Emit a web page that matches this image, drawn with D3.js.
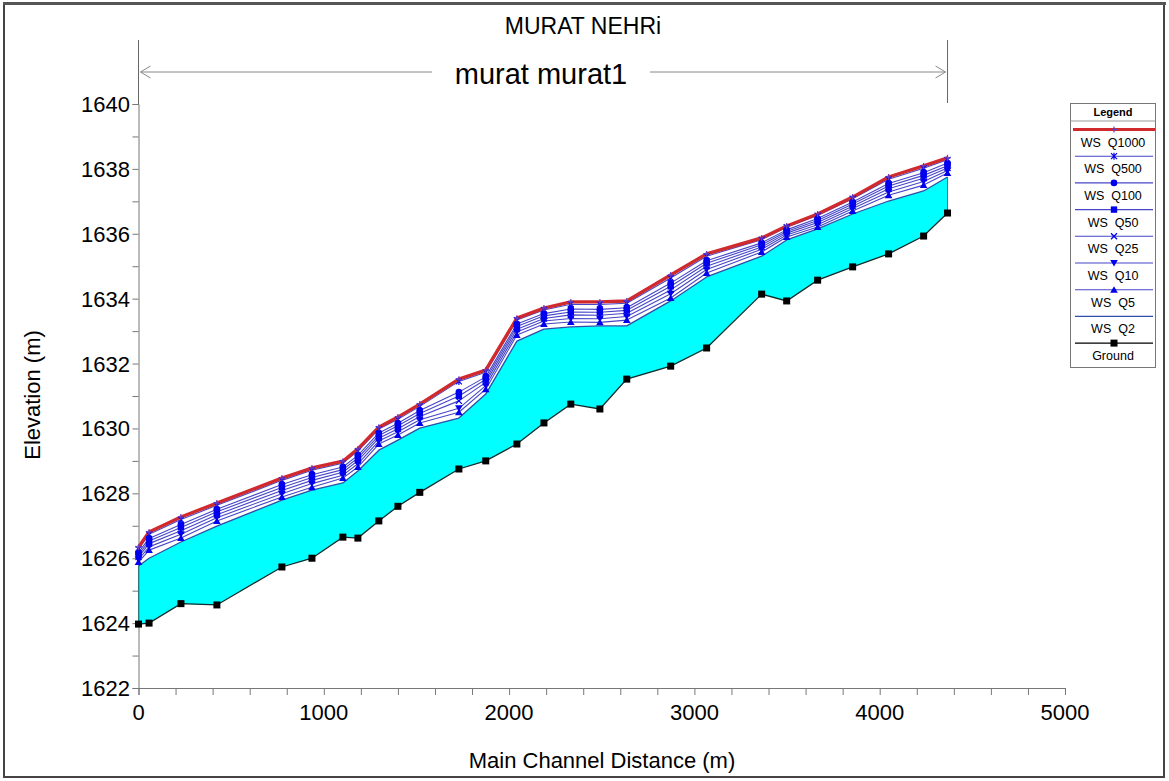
<!DOCTYPE html>
<html><head><meta charset="utf-8">
<script src="https://cdn.jsdelivr.net/npm/d3@7"></script>
<style>html,body{margin:0;padding:0;background:#fff;}svg{display:block;font-family:"Liberation Sans",Arial,sans-serif;}</style>
</head><body>
<svg id="c" width="1169" height="781"></svg>
<script>
const stations = [0,57,229,423,774,936,1103,1184,1297,1400,1518,1729,1874,2042,2188,2333,2490,2635,2872,3066,3363,3498,3665,3854,4048,4237,4366];
const ground = [1623.97,1624.00,1624.60,1624.56,1625.73,1626.00,1626.65,1626.62,1627.15,1627.60,1628.03,1628.75,1629.00,1629.52,1630.17,1630.75,1630.60,1631.52,1631.92,1632.48,1634.14,1633.93,1634.57,1634.98,1635.38,1635.93,1636.64];
const wsQ1000 = [1626.34,1626.81,1627.27,1627.70,1628.47,1628.78,1628.99,1629.37,1630.04,1630.35,1630.75,1631.52,1631.80,1633.40,1633.71,1633.90,1633.90,1633.93,1634.73,1635.38,1635.87,1636.24,1636.61,1637.13,1637.75,1638.09,1638.34];
const wsQ500 = [1626.28,1626.74,1627.19,1627.63,1628.40,1628.71,1628.93,1629.30,1629.98,1630.28,1630.68,1631.45,1631.73,1633.34,1633.65,1633.83,1633.82,1633.86,1634.64,1635.31,1635.82,1636.20,1636.56,1637.08,1637.68,1638.02,1638.28];
const wsQ100 = [1626.18,1626.61,1627.04,1627.51,1628.27,1628.57,1628.81,1629.17,1629.86,1630.16,1630.55,1631.12,1631.59,1633.22,1633.54,1633.68,1633.67,1633.72,1634.48,1635.17,1635.72,1636.12,1636.47,1636.98,1637.55,1637.88,1638.18];
const wsQ50 = [1626.11,1626.53,1626.95,1627.43,1628.18,1628.49,1628.73,1629.09,1629.78,1630.08,1630.46,1631.00,1631.51,1633.14,1633.47,1633.59,1633.58,1633.64,1634.38,1635.09,1635.66,1636.07,1636.41,1636.92,1637.47,1637.80,1638.10];
const wsQ25 = [1626.04,1626.45,1626.85,1627.34,1628.09,1628.40,1628.65,1629.01,1629.70,1629.99,1630.37,1630.85,1631.42,1633.06,1633.39,1633.50,1633.49,1633.55,1634.27,1635.00,1635.59,1636.02,1636.35,1636.85,1637.39,1637.71,1638.03];
const wsQ10 = [1625.96,1626.35,1626.74,1627.25,1627.99,1628.30,1628.56,1628.91,1629.61,1629.90,1630.27,1630.62,1631.32,1632.97,1633.31,1633.39,1633.38,1633.45,1634.15,1634.90,1635.52,1635.96,1636.28,1636.78,1637.29,1637.61,1637.95];
const wsQ5 = [1625.88,1626.25,1626.62,1627.15,1627.89,1628.19,1628.47,1628.81,1629.52,1629.80,1630.17,1630.50,1631.21,1632.88,1633.22,1633.28,1633.27,1633.34,1634.02,1634.79,1635.44,1635.90,1636.21,1636.70,1637.19,1637.50,1637.87];
const wsQ2 = [1625.76,1626.00,1626.50,1626.99,1627.79,1628.10,1628.32,1628.69,1629.33,1629.64,1630.01,1630.32,1631.06,1632.69,1633.06,1633.13,1633.16,1633.16,1633.93,1634.67,1635.31,1635.81,1636.15,1636.61,1637.01,1637.32,1637.75];
const profileNames = ["WS  Q1000","WS  Q500","WS  Q100","WS  Q50","WS  Q25","WS  Q10","WS  Q5","WS  Q2","Ground"];
const xTicks = [0,1000,2000,3000,4000,5000];
const yTicks = [1622,1624,1626,1628,1630,1632,1634,1636,1638,1640];
const chartTitle = "MURAT NEHRi";
const reachName = "murat murat1";
const xTitle = "Main Channel Distance (m)";
const yTitle = "Elevation (m)";

const svg = d3.select("#c");
const x = d3.scaleLinear().domain([0,5000]).range([138.5,1065]);
const y = d3.scaleLinear().domain([1622,1640]).range([688,104]);

// outer frame
svg.append("rect").attr("x",4).attr("y",4).attr("width",1160).attr("height",773)
  .attr("fill","none").attr("stroke","#444").attr("stroke-width",2);
svg.append("line").attr("x1",3).attr("x2",1166).attr("y1",3.5).attr("y2",3.5).attr("stroke","#555").attr("stroke-width",3);

// water fill between ground and lowest WS
const area = d3.area().x((d,i)=>x(stations[i])).y0((d,i)=>y(ground[i])).y1(d=>y(d));
svg.append("path").datum(wsQ2).attr("d",area).attr("fill","#00ffff").attr("stroke","none");

// axes
const gx = svg.append("g").attr("transform","translate(0,688)")
  .call(d3.axisBottom(x).tickValues(d3.range(0,5001,200)).tickSize(7).tickFormat(""));
gx.select(".domain").attr("stroke","#777");
gx.selectAll(".tick line").attr("stroke","#777");
svg.append("g").selectAll("text").data(xTicks).join("text")
  .attr("x",d=>x(d)).attr("y",720).attr("text-anchor","middle")
  .attr("font-size",22).attr("fill","#000").text(d=>d);

const gy = svg.append("g").attr("transform","translate(138.5,0)")
  .call(d3.axisLeft(y).tickValues(d3.range(1622,1641,1)).tickSize(6).tickFormat(""));
gy.select(".domain").attr("stroke","#777");
gy.selectAll(".tick line").attr("stroke","#777");
svg.append("g").selectAll("text").data(yTicks).join("text")
  .attr("x",130).attr("y",d=>y(d)+8).attr("text-anchor","end")
  .attr("font-size",22).attr("fill","#000").text(d=>d);

// titles
svg.append("text").attr("x",583).attr("y",34).attr("text-anchor","middle").attr("font-size",23).text(chartTitle);
svg.append("text").attr("x",541).attr("y",84).attr("text-anchor","middle").attr("font-size",29).text(reachName);
svg.append("text").attr("x",602).attr("y",768).attr("text-anchor","middle").attr("font-size",22).text(xTitle);
svg.append("text").attr("transform","translate(40,395) rotate(-90)").attr("text-anchor","middle").attr("font-size",22).text(yTitle);

// reach bracket
const xs = x(stations[0]), xe = x(stations[stations.length-1]);
svg.append("line").attr("x1",xs).attr("x2",xs).attr("y1",40).attr("y2",104).attr("stroke","#666");
svg.append("line").attr("x1",xe).attr("x2",xe).attr("y1",40).attr("y2",103).attr("stroke","#666");
svg.append("line").attr("x1",xs+2).attr("x2",432).attr("y1",72).attr("y2",72).attr("stroke","#888");
svg.append("line").attr("x1",650).attr("x2",xe-2).attr("y1",72).attr("y2",72).attr("stroke","#888");
svg.append("path").attr("d",`M${xs+12},66 L${xs+2},72 L${xs+12},78`).attr("fill","none").attr("stroke","#888");
svg.append("path").attr("d",`M${xe-12},66 L${xe-2},72 L${xe-12},78`).attr("fill","none").attr("stroke","#888");

const line = d3.line().x((d,i)=>x(stations[i])).y(d=>y(d));
const blueLine = "#4646c8";
const mk = "#0000ee";
const profiles = [
  {name:profileNames[0], data:wsQ1000, color:"#d02a2e", width:3.4, sym:"plus"},
  {name:profileNames[1], data:wsQ500, color:blueLine, width:1.1, sym:"star"},
  {name:profileNames[2], data:wsQ100, color:blueLine, width:1.1, sym:"circle"},
  {name:profileNames[3], data:wsQ50, color:blueLine, width:1.1, sym:"square"},
  {name:profileNames[4], data:wsQ25, color:blueLine, width:1.1, sym:"x"},
  {name:profileNames[5], data:wsQ10, color:blueLine, width:1.1, sym:"down"},
  {name:profileNames[6], data:wsQ5, color:blueLine, width:1.1, sym:"up"},
  {name:profileNames[7], data:wsQ2, color:"#2f4fa8", width:1.3, sym:null},
];

function drawSym(g, sym, cx, cy, color){
  if(sym==="plus"){
    g.append("path").attr("d",`M${cx-3},${cy} h6 M${cx},${cy-3} v6`).attr("stroke","#6a3cc0").attr("stroke-width",1.2);
  } else if(sym==="star"){
    g.append("path").attr("d",`M${cx-3},${cy-3} L${cx+3},${cy+3} M${cx-3},${cy+3} L${cx+3},${cy-3} M${cx},${cy-3.5} v7`).attr("stroke",color).attr("stroke-width",1.2);
  } else if(sym==="x"){
    g.append("path").attr("d",`M${cx-3},${cy-3} L${cx+3},${cy+3} M${cx-3},${cy+3} L${cx+3},${cy-3}`).attr("stroke",color).attr("stroke-width",1.3);
  } else if(sym==="circle"){
    g.append("circle").attr("cx",cx).attr("cy",cy).attr("r",3.3).attr("fill",color);
  } else if(sym==="square"){
    g.append("rect").attr("x",cx-3.2).attr("y",cy-3.2).attr("width",6.4).attr("height",6.4).attr("fill",color);
  } else if(sym==="down"){
    g.append("path").attr("d",`M${cx-3.8},${cy-3} L${cx+3.8},${cy-3} L${cx},${cy+3.5} Z`).attr("fill",color);
  } else if(sym==="up"){
    g.append("path").attr("d",`M${cx-3.8},${cy+3} L${cx+3.8},${cy+3} L${cx},${cy-3.5} Z`).attr("fill",color);
  } else if(sym==="gsquare"){
    g.append("rect").attr("x",cx-3.5).attr("y",cy-3.5).attr("width",7).attr("height",7).attr("fill","#000");
  }
}

// WS lines (lowest first, Q1000 on top)
const gl = svg.append("g");
profiles.slice().reverse().forEach(p=>{
  gl.append("path").datum(p.data).attr("d",line).attr("fill","none")
    .attr("stroke",p.color).attr("stroke-width",p.width).attr("stroke-linejoin","round");
});
// markers
const gm = svg.append("g");
profiles.slice().reverse().forEach(p=>{
  if(!p.sym) return;
  p.data.forEach((v,i)=>drawSym(gm,p.sym,x(stations[i]),y(v),mk));
});

// ground line
svg.append("path").datum(ground).attr("d",line).attr("fill","none").attr("stroke","#0d2b2b").attr("stroke-width",1.3);
svg.append("line").attr("x1",x(stations[stations.length-1])).attr("x2",x(stations[stations.length-1]))
  .attr("y1",y(wsQ2[wsQ2.length-1])).attr("y2",y(ground[ground.length-1])).attr("stroke","#2a7a7a").attr("stroke-width",1);
svg.append("line").attr("x1",x(0)).attr("x2",x(0))
  .attr("y1",y(wsQ2[0])).attr("y2",y(ground[0])).attr("stroke","#2a7a7a").attr("stroke-width",1);
ground.forEach((v,i)=>drawSym(svg,"gsquare",x(stations[i]),y(v)));

// legend
const L = svg.append("g");
L.append("rect").attr("x",1070.5).attr("y",103.5).attr("width",85).attr("height",264)
  .attr("fill","#fff").attr("stroke","#777");
L.append("text").attr("x",1113).attr("y",116).attr("text-anchor","middle").attr("font-size",11).attr("font-weight","bold").text("Legend");
L.append("line").attr("x1",1070.5).attr("x2",1155.5).attr("y1",121).attr("y2",121).attr("stroke","#999");
const legItems = profiles.map(p=>({name:p.name,color:p.color,width:p.width,sym:p.sym}))
  .concat([{name:profileNames[8],color:"#000",width:1.2,sym:"gsquare"}]);
legItems.forEach((p,i)=>{
  const ly = 129.5 + i*26.7;
  L.append("line").attr("x1",i===0?1073:1075).attr("x2",i===0?1155:1153).attr("y1",ly).attr("y2",ly)
    .attr("stroke",p.color).attr("stroke-width",i===0?3:(i===8?1.2:1.1));
  if(p.sym) drawSym(L,p.sym,1114,ly,mk);
  L.append("text").attr("x",1113).attr("y",ly+17).attr("text-anchor","middle").attr("font-size",12.5)
    .style("white-space","pre").attr("fill","#000").text(p.name);
});
</script>
</body></html>
